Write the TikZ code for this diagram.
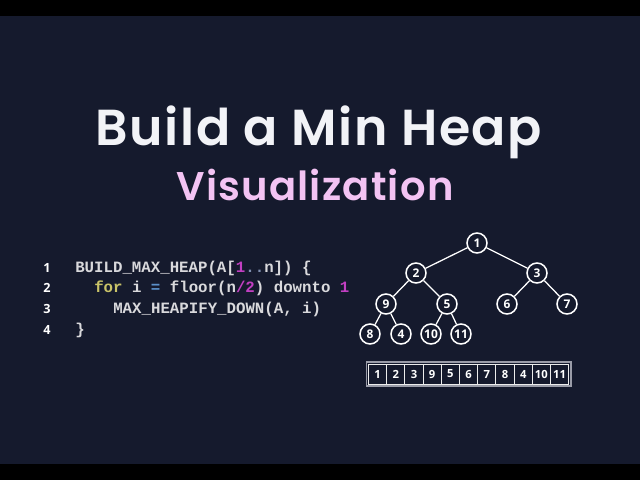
\documentclass[tikz,border=0pt]{standalone}
\usepackage{xcolor}
\usepackage{fontspec}
\usepackage{tikz}
\newfontfamily\titlefont{Poppins SemiBold}[LetterSpace=3]
\newfontfamily\labelfont{Open Sans}
\newfontfamily\codefont{Liberation Mono}
\definecolor{bgblue}{HTML}{151A2D}
\definecolor{titlewhite}{HTML}{F2F3F7}
\definecolor{vizpink}{HTML}{F3C3F3}
\definecolor{codegray}{HTML}{D9D9DC}
\definecolor{codemag}{HTML}{C23FC2}
\definecolor{codeyel}{HTML}{C9C368}
\definecolor{codeblue}{HTML}{5B8FC9}
\definecolor{codedots}{HTML}{8090B0}
\definecolor{framegray}{HTML}{9A9CA8}
\tikzset{
  heapnode/.style={circle, draw=white, line width=1.1pt, minimum size=5mm, inner sep=0pt,
    text=white, font=\labelfont\bfseries\fontsize{8.5}{9}\selectfont},
  heapedge/.style={white, line width=0.9pt},
  cell/.style={draw=white!85!gray, line width=0.7pt, minimum width=4.55mm, minimum height=5mm,
    inner sep=0pt, text=white, font=\labelfont\bfseries\fontsize{8}{9}\selectfont},
  codeline/.style={anchor=base west, inner sep=0pt, text=codegray,
    font=\codefont\bfseries\fontsize{11.2}{12}\selectfont},
  lineno/.style={anchor=base, inner sep=0pt, text=white,
    font=\labelfont\bfseries\fontsize{9}{10}\selectfont}
}
\begin{document}
\begin{tikzpicture}[x=0.25mm, y=-0.25mm]
      \useasboundingbox (0,0) rectangle (640,480);
      \fill[bgblue] (0,0) rectangle (640,480);
      \fill[black] (0,0) rectangle (640,16);
      \fill[black] (0,464) rectangle (640,480);
      % titles
      \node[anchor=base, inner sep=0pt, text=titlewhite, font=\titlefont\fontsize{36}{38}\selectfont]
        (title) at (319,145) {Build a Min Heap};
      \node[anchor=base, inner sep=0pt, text=vizpink, font=\titlefont\fontsize{28.5}{31}\selectfont]
        (subtitle) at (315,200) {Visualization};
      % code listing
      \node[lineno] (l1) at (47,272) {1};
      \node[lineno] (l2) at (47,292) {2};
      \node[lineno] (l3) at (47,313) {3};
      \node[lineno] (l4) at (47,334) {4};
      \node[codeline] (c1) at (75,272) {BUILD\_MAX\_HEAP(A[\textcolor{codemag}{1}\textcolor{codedots}{..}n]) \{};
      \node[codeline] (c2) at (94,292) {\textcolor{codeyel}{for} i \textcolor{codeblue}{=} floor(n\textcolor{codemag}{/2}) downto \textcolor{codemag}{1}};
      \node[codeline] (c3) at (113,313) {MAX\_HEAPIFY\_DOWN(A, i)};
      \node[codeline] (c4) at (75,334) {\}};
      % heap tree
      \foreach \name/\x/\y/\val in {h1/477/243/1, h2/416/273/2, h3/537/273/3,
          h4/386/304/9, h5/447/304/5, h6/507/304/6, h7/567/304/7,
          h8/370/334/8, h9/401/334/4, h10/431/334/10, h11/461/334/11}
        \node[heapnode] (\name) at (\x,\y) {\val};
      \draw[heapedge] (h1) -- (h2);
      \draw[heapedge] (h1) -- (h3);
      \draw[heapedge] (h2) -- (h4);
      \draw[heapedge] (h2) -- (h5);
      \draw[heapedge] (h3) -- (h6);
      \draw[heapedge] (h3) -- (h7);
      \draw[heapedge] (h4) -- (h8);
      \draw[heapedge] (h4) -- (h9);
      \draw[heapedge] (h5) -- (h10);
      \draw[heapedge] (h5) -- (h11);
      % array
      \foreach \v [count=\i] in {1,2,3,9,5,6,7,8,4,10,11}
        \node[cell] (a\i) at ({368.5+18.2*(\i-0.5)},374) {\v};
      \draw[framegray, line width=1pt] ([shift={(-1.2pt,1.2pt)}]a1.north west) rectangle ([shift={(1.2pt,-1.2pt)}]a11.south east);
\end{tikzpicture}
\end{document}
